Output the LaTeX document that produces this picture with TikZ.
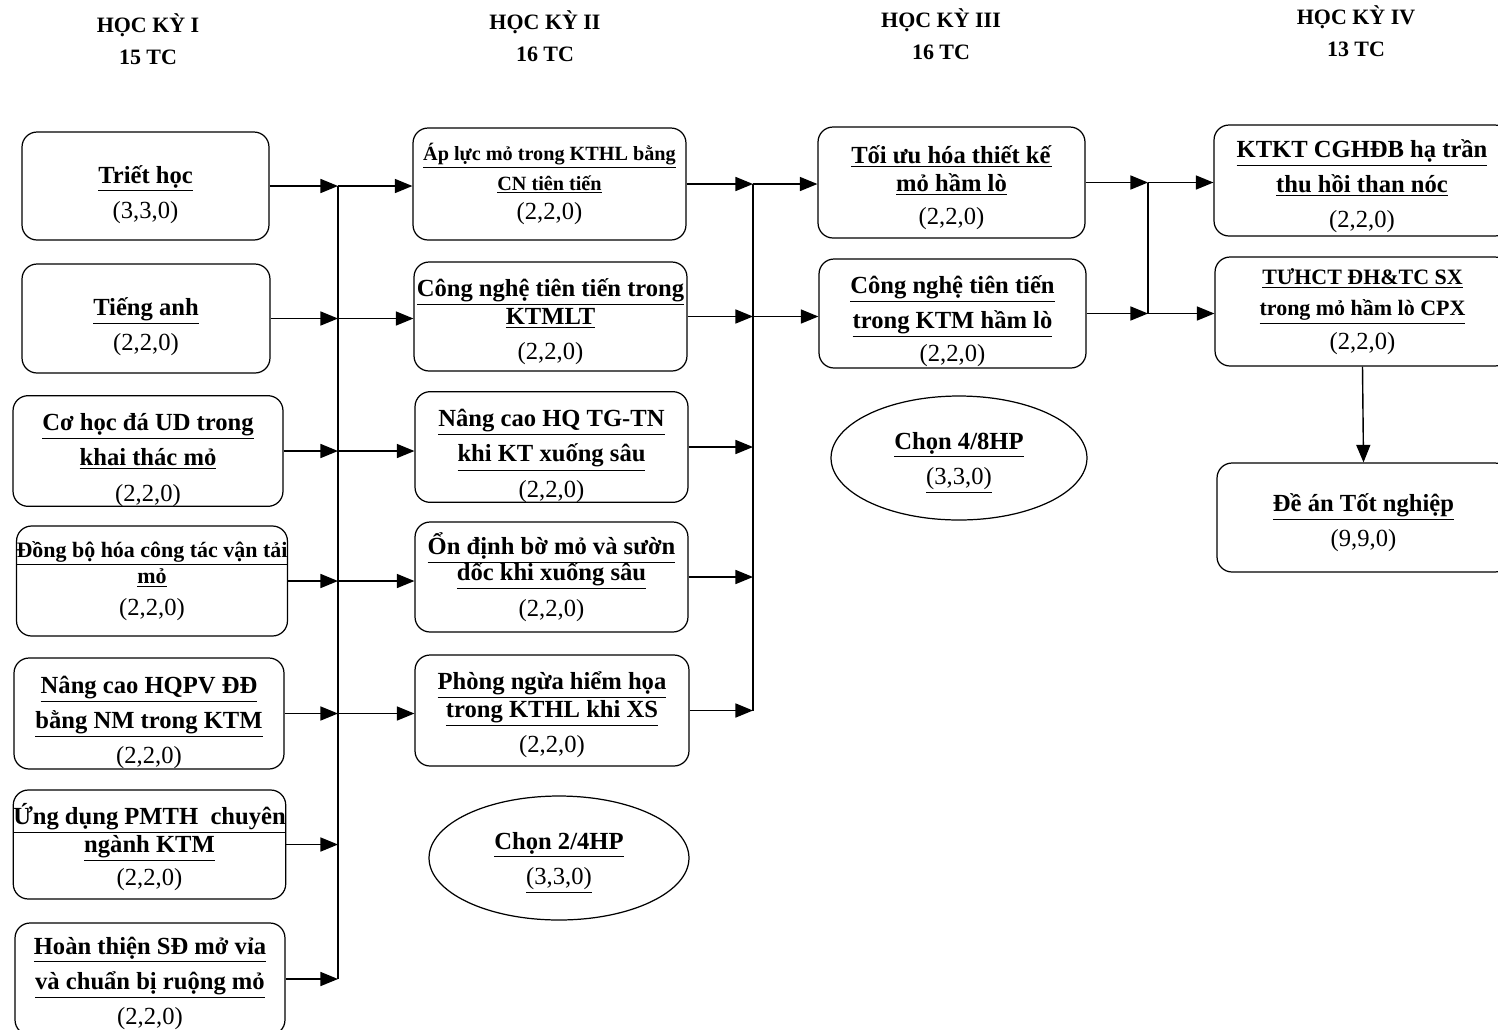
\documentclass[tikz,border=0pt]{standalone}
\usepackage{fontspec}
\setmainfont{Liberation Serif}
\usepackage{tikz}
\usetikzlibrary{arrows.meta,shapes.geometric}
\newcommand{\ct}[1]{\underline{\textbf{#1}}}
\newcommand{\sm}{\fontsize{11.5}{14}\selectfont}
\newcommand{\up}[1]{\rule{0pt}{#1pt}}

\begin{document}
\begin{tikzpicture}[x = 0.02cm, y = -0.02cm,
		box/.style = {draw, line width=0.7pt, rounded corners=0.3cm, align=center, inner sep=0pt, font=\fontsize{14}{20}\selectfont},
		hp/.style = {draw, ellipse, line width=0.7pt, align=center, inner sep=0pt, font=\fontsize{14}{20}\selectfont},
		hk/.style = {align=center, font=\fontsize{12.5}{18}\selectfont\bfseries},
		arr/.style = {-{Triangle[length=10pt,width=8pt]}, line width=0.8pt},
		ln/.style = {line width=0.8pt}]
			\useasboundingbox (0,0) rectangle (1498,1029);
			\clip (0,0) rectangle (1498,1029);
			\node[hk] (h1) at (148,39) {HỌC KỲ I\\15 TC};
			\node[hk] (h2) at (545,36) {HỌC KỲ II\\16 TC};
			\node[hk] (h3) at (941,34) {HỌC KỲ III\\16 TC};
			\node[hk] (h4) at (1356,31) {HỌC KỲ IV\\13 TC};
			\node[box, minimum width=4.94cm, minimum height=2.16cm] (tr) at (145.5,186) {\up{20}\ct{Triết học}\\(3,3,0)};
			\node[box, minimum width=4.96cm, minimum height=2.18cm] (ta) at (146,318.5) {\up{19}\ct{Tiếng anh}\\(2,2,0)};
			\node[box, minimum width=5.40cm, minimum height=2.16cm] (ch) at (148,451) {\up{20}\ct{Cơ học đá UD trong}\\\ct{khai thác mỏ}\\(2,2,0)};
			\node[box, minimum width=5.28cm, minimum height=2.20cm] (db) at (152,581) {{\fontsize{12.5}{15}\selectfont\ct{Đồng bộ hóa công tác vận tải}}\\[-5pt]{\fontsize{12.5}{15}\selectfont\ct{mỏ}}\\[-2pt](2,2,0)};
			\node[box, minimum width=5.40cm, minimum height=2.22cm] (nc) at (149,713.5) {\up{20}\ct{Nâng cao HQPV ĐĐ}\\\ct{bằng NM trong KTM}\\(2,2,0)};
			\node[box, minimum width=5.42cm, minimum height=2.18cm] (ud) at (149.5,844.5) {\up{15}\ct{Ứng dụng PMTH\ \ chuyên}\\[-4pt]\ct{ngành KTM}\\[-1pt](2,2,0)};
			\node[box, minimum width=5.40cm, minimum height=2.24cm] (ht) at (150,979) {\up{15}\ct{Hoàn thiện SĐ mở vỉa}\\\ct{và chuẩn bị ruộng mỏ}\\(2,2,0)};
			\node[box, minimum width=5.46cm, minimum height=2.24cm] (al) at (549.5,184) {{\sm\ct{Áp lực mỏ trong KTHL bằng}}\\[-3pt]{\sm\ct{CN tiên tiến}}\\[-3pt](2,2,0)};
			\node[box, minimum width=5.46cm, minimum height=2.18cm] (cn) at (550.5,316.5) {\up{16}\ct{Công nghệ tiên tiến trong}\\[-4pt]\ct{KTMLT}\\(2,2,0)};
			\node[box, minimum width=5.46cm, minimum height=2.20cm] (hq) at (551.5,447) {\up{20}\ct{Nâng cao HQ TG-TN}\\\ct{khi KT xuống sâu}\\(2,2,0)};
			\node[box, minimum width=5.46cm, minimum height=2.20cm] (od) at (551.5,577) {\ct{Ổn định bờ mỏ và sườn}\\[-5pt]\ct{dốc khi xuống sâu}\\(2,2,0)};
			\node[box, minimum width=5.48cm, minimum height=2.22cm] (pn) at (552,710.5) {\up{15}\ct{Phòng ngừa hiểm họa}\\[-4pt]\ct{trong KTHL khi XS}\\(2,2,0)};
			\node[hp, minimum width=5.2cm, minimum height=2.48cm] (c2) at (559,858) {\up{15}\ct{Chọn 2/4HP}\\\underline{(3,3,0)}};
			\node[box, minimum width=5.34cm, minimum height=2.22cm] (tu) at (951.5,182.5) {\up{16}\ct{Tối ưu hóa thiết kế}\\[-4pt]\ct{mỏ hầm lò}\\[-1pt](2,2,0)};
			\node[box, minimum width=5.34cm, minimum height=2.18cm] (ck) at (952.5,313.5) {\up{19}\ct{Công nghệ tiên tiến}\\\ct{trong KTM hầm lò}\\[-1pt](2,2,0)};
			\node[hp, minimum width=5.12cm, minimum height=2.48cm] (c3) at (959,458) {\up{15}\ct{Chọn 4/8HP}\\\underline{(3,3,0)}};
			\node[box, minimum width=5.92cm, minimum height=2.22cm] (kt) at (1362,180.5) {\up{17}\ct{KTKT CGHĐB hạ trần}\\\ct{thu hồi than nóc}\\(2,2,0)};
			\node[box, minimum width=5.90cm, minimum height=2.18cm] (tc) at (1362.5,311.5) {{\fontsize{12.5}{15}\selectfont\ct{TƯHCT ĐH\&TC SX}}\\[-2pt]{\fontsize{12.5}{15}\selectfont\ct{trong mỏ hầm lò CPX}}\\[-1pt](2,2,0)};
			\node[box, minimum width=5.86cm, minimum height=2.18cm] (da) at (1363.5,517.5) {\up{16}\ct{Đề án Tốt nghiệp}\\(9,9,0)};
			\coordinate (b1) at (338,0);
			\coordinate (b2) at (753,0);
			\coordinate (b3) at (1148,0);
			\foreach \n in {tr,ta,ch,db,nc,ud,ht}
				\draw[arr] (\n.east) -- (\n.east -| b1);
			\draw[ln] (tr.east -| b1) -- (ht.east -| b1);
			\foreach \a/\b in {tr/al,ta/cn,ch/hq,db/od,nc/pn}
				\draw[arr] (\a.east -| b1) -- (\a.east -| \b.west);
			\foreach \n in {al,cn,hq,od,pn}
				\draw[arr] (\n.east) -- (\n.east -| b2);
			\draw[ln] (al.east -| b2) -- (pn.east -| b2);
			\draw[arr] (al.east -| b2) -- (al.east -| tu.west);
			\draw[arr] (cn.east -| b2) -- (cn.east -| ck.west);
			\draw[arr] (tu.east) -- (tu.east -| b3);
			\draw[arr] (ck.east) -- (ck.east -| b3);
			\draw[ln] (tu.east -| b3) -- (ck.east -| b3);
			\draw[arr] (tu.east -| b3) -- (tu.east -| kt.west);
			\draw[arr] (ck.east -| b3) -- (ck.east -| tc.west);
			\draw[arr] (tc.south) -- (da.north);
	\end{tikzpicture}
\end{document}
